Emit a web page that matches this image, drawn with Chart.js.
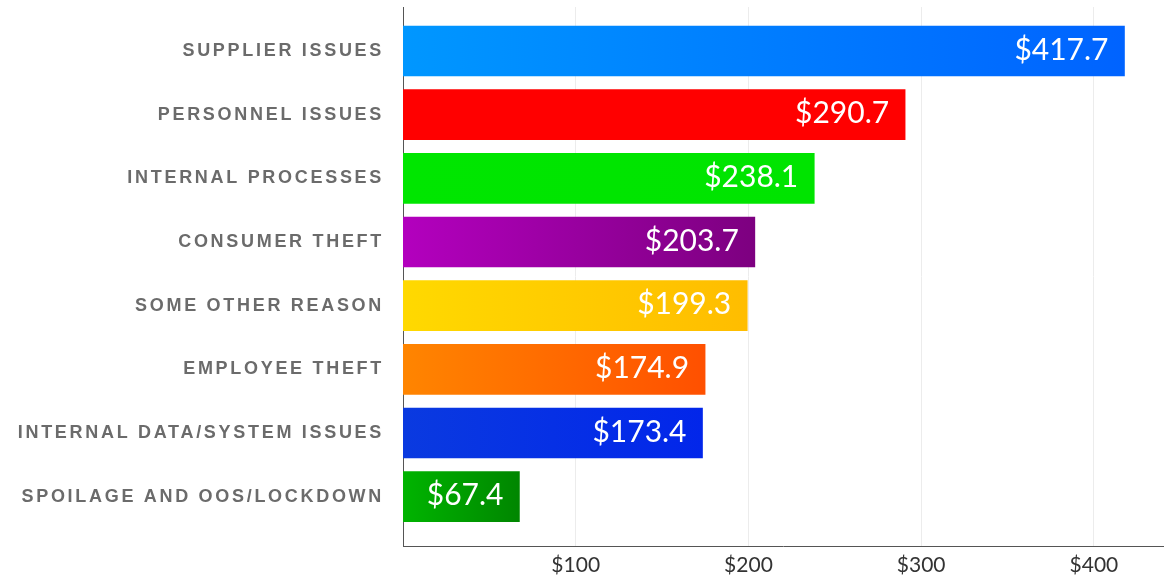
<!DOCTYPE html>
<html>
<head>
<meta charset="utf-8">
<script src="https://cdn.jsdelivr.net/npm/chart.js@4"></script>
<style>
  html, body { margin: 0; padding: 0; background: #fff; }
  .chart-wrapper { position: relative; width: 1166px; height: 579px; }
</style>
</head>
<body>
<div class="chart-wrapper">
  <canvas id="lossChart"></canvas>
</div>
<script>
// Reasons, top to bottom
const reasons = [
  'SUPPLIER ISSUES',
  'PERSONNEL ISSUES',
  'INTERNAL PROCESSES',
  'CONSUMER THEFT',
  'SOME OTHER REASON',
  'EMPLOYEE THEFT',
  'INTERNAL DATA/SYSTEM ISSUES',
  'SPOILAGE AND OOS/LOCKDOWN'
];
const amounts = [417.7, 290.7, 238.1, 203.7, 199.3, 174.9, 173.4, 67.4];
const xTickValues = [100, 200, 300, 400];

// Bar fills run left -> right
const fillStart = ['#0097ff', '#ff0000', '#00e600', '#b300be', '#ffd900', '#ff8500', '#0a3ae0', '#00b400'];
const fillEnd   = ['#0063ff', '#ff0000', '#00e400', '#7d0080', '#ffbd00', '#ff5000', '#0226ea', '#008600'];

const barFill = (c) => {
    const chart = c.chart;
    const i = c.dataIndex;
    if (!chart.chartArea || i === undefined) return fillStart[i] || fillStart[0];
    const xs = chart.scales.x;
    const x0 = xs.getPixelForValue(0);
    const x1 = xs.getPixelForValue(amounts[i]);
    const g = chart.ctx.createLinearGradient(x0, 0, x1, 0);
    g.addColorStop(0, fillStart[i]);
    g.addColorStop(1, fillEnd[i]);
    return g;
};

// Spaced caps for the reason labels only
const labelSpacing = {
    id: 'labelSpacing',
    beforeDraw(chart) { chart.ctx.letterSpacing = '2.7px'; },
    beforeDatasetsDraw(chart) { chart.ctx.letterSpacing = '0px'; }
};

// Dollar amounts inside the bar ends
const valueLabels = {
    id: 'valueLabels',
    afterDatasetsDraw(chart) {
        const ctx = chart.ctx;
        const meta = chart.getDatasetMeta(0);
        ctx.save();
        ctx.letterSpacing = '0px';
        ctx.font = '30px Lato';
        ctx.fillStyle = '#ffffff';
        ctx.textAlign = 'right';
        ctx.textBaseline = 'middle';
        meta.data.forEach((bar, i) => {
            ctx.fillText('$' + amounts[i].toFixed(1), bar.x - 16, bar.y - 1);
        });
        ctx.restore();
    }
};

new Chart(document.getElementById('lossChart'), {
    type: 'bar',
    data: {
        datasets: [{
            data: amounts.map((v, i) => ({ x: v, y: i })),
            backgroundColor: barFill,
            borderWidth: 0,
            barThickness: 50
        }]
    },
    options: {
        indexAxis: 'y',
        responsive: true,
        maintainAspectRatio: false,
        animation: false,
        layout: { padding: { top: 7, right: 3, left: 0, bottom: 0 } },
        plugins: {
            legend: { display: false },
            tooltip: { enabled: false }
        },
        scales: {
            x: {
                type: 'linear',
                min: 0,
                max: 440,
                afterBuildTicks: (s) => { s.ticks = xTickValues.map(v => ({ value: v })); },
                afterFit: (s) => { s.height = 33; },
                grid: { color: '#ececec', drawTicks: false },
                border: { color: '#555555', width: 1 },
                ticks: {
                    z: 1,
                    padding: 7,
                    color: '#333333',
                    font: { family: 'Lato', size: 21 },
                    callback: (v) => '$' + v
                }
            },
            y: {
                type: 'linear',
                reverse: true,
                offset: false,
                min: -0.691,
                max: 7.775,
                afterBuildTicks: (s) => { s.ticks = reasons.map((r, i) => ({ value: i })); },
                afterFit: (s) => {
                    s.width = 403;
                    s.paddingTop = 0;
                    s.paddingBottom = 0;
                },
                grid: { display: false, drawTicks: false },
                border: { color: '#555555', width: 1 },
                ticks: {
                    padding: 19,
                    color: '#6b6b6b',
                    font: { family: 'Liberation Sans', size: 18, weight: 'bold' },
                    callback: (v) => reasons[v] || ''
                }
            }
        }
    },
    plugins: [labelSpacing, valueLabels]
});
</script>
</body>
</html>
